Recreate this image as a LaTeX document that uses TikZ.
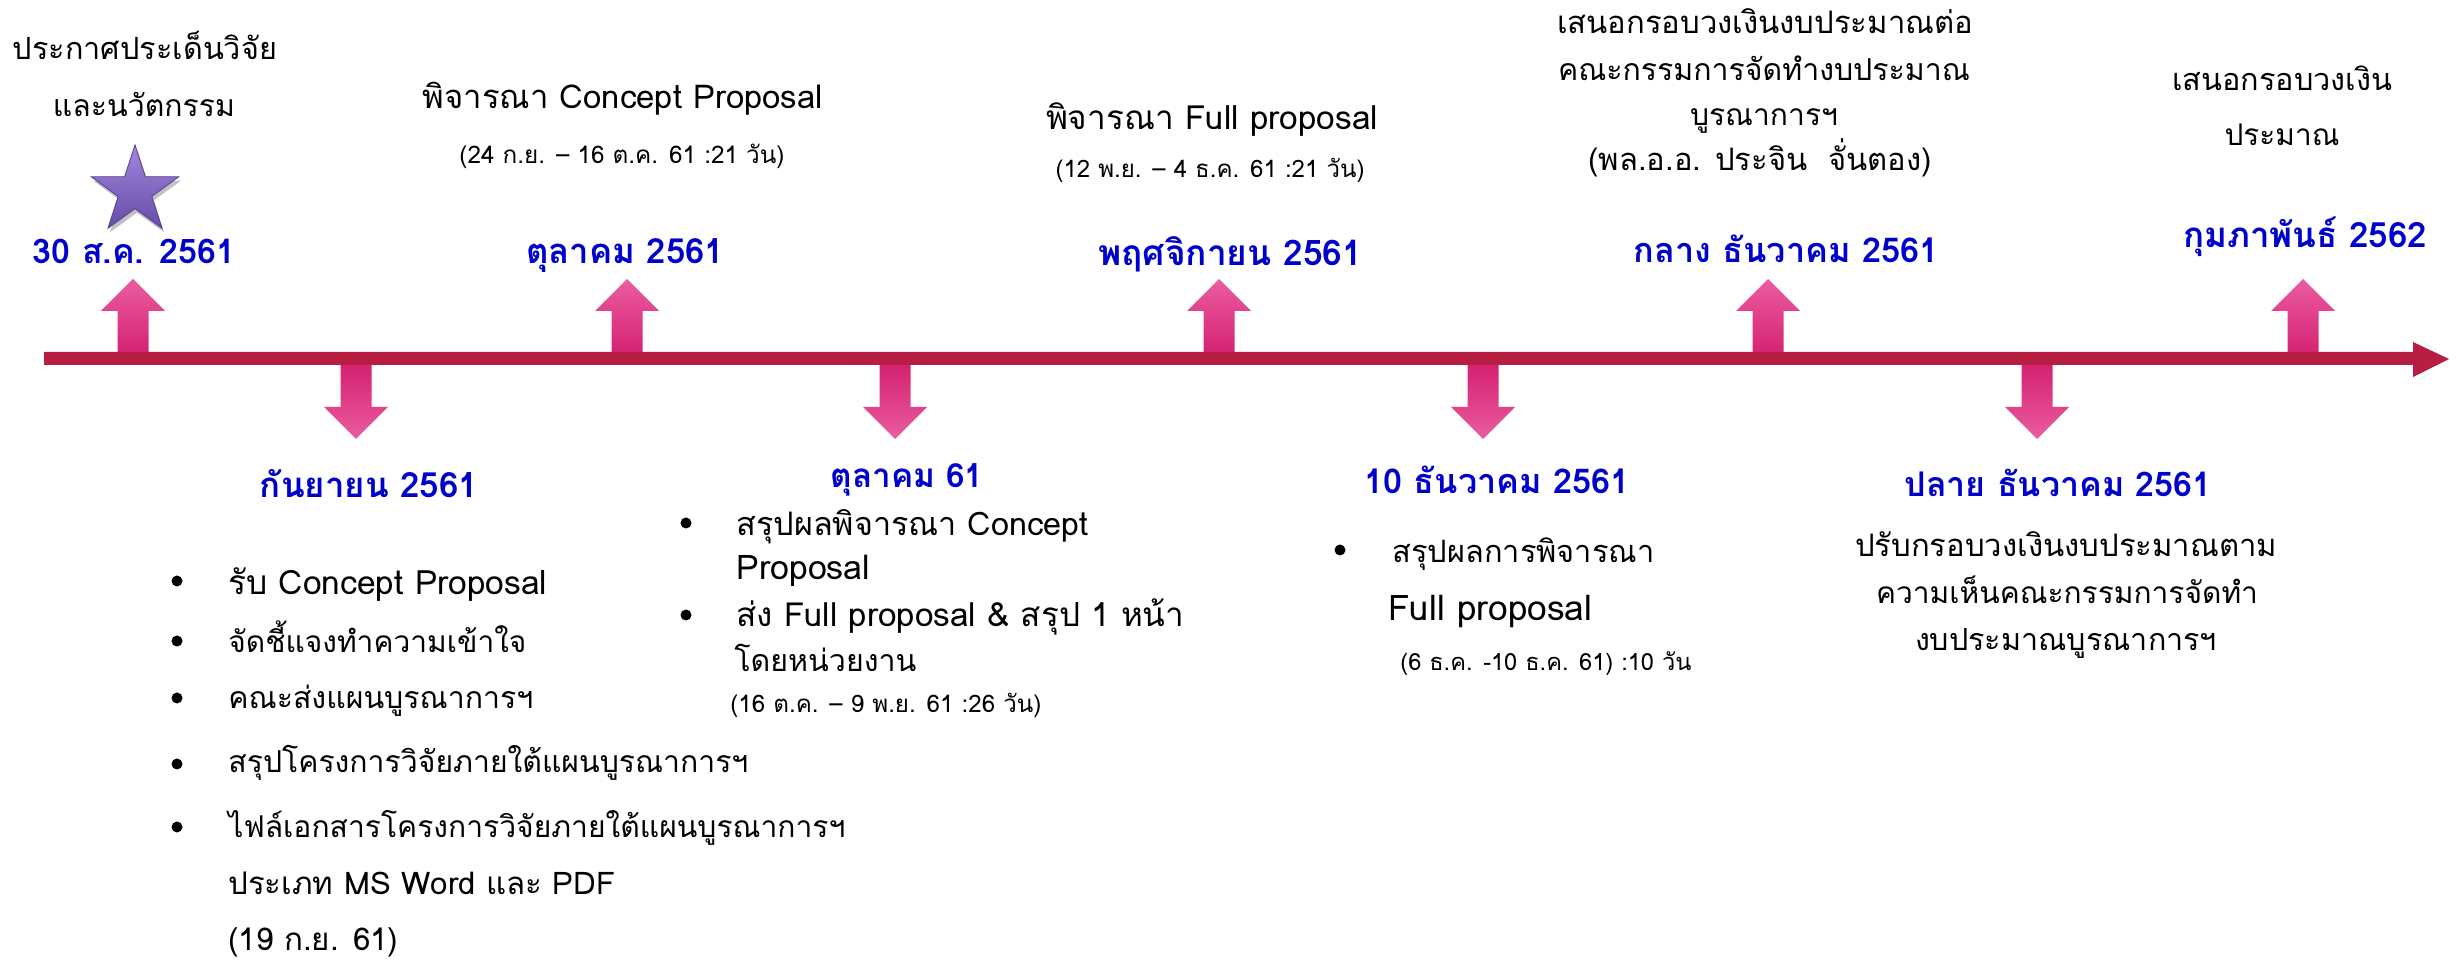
\documentclass[tikz,border=0pt]{standalone}
\usepackage{graphicx}
\usepackage{fontspec}
\setmainfont[Script=Thai]{Loma}
\usetikzlibrary{shapes.geometric,shadows}
\definecolor{datecol}{RGB}{0,0,204}
\definecolor{barcol}{RGB}{183,30,65}
\definecolor{arrtip}{RGB}{234,92,160}
\definecolor{arrmid}{RGB}{226,32,122}
\definecolor{arrbase}{RGB}{212,32,112}
\definecolor{starA}{RGB}{165,135,220}
\definecolor{starB}{RGB}{100,76,168}
\tikzset{
  datelbl/.style={font=\bfseries\fontsize{18}{20}\selectfont, text=datecol, inner sep=0pt, anchor=mid},
  toptxt/.style={font=\fontsize{17}{19}\selectfont, inner sep=0pt, anchor=mid},
  bodytxt/.style={font=\fontsize{16}{18}\selectfont, inner sep=0pt, anchor=mid west},
  bodyc/.style={font=\fontsize{16}{18}\selectfont, inner sep=0pt, anchor=mid},
  smalltxt/.style={font=\fontsize{13}{15}\selectfont, inner sep=0pt, anchor=mid},
  smallw/.style={font=\fontsize{13}{15}\selectfont, inner sep=0pt, anchor=mid west},
  bulletdot/.style={fill=black},
  uparr/.style={top color=arrtip, middle color=arrmid, bottom color=arrbase},
  dnarr/.style={top color=arrbase, middle color=arrmid, bottom color=arrtip},
}
% width given in reference pixels (1px = 0.5pt)
\newcommand\fw[2]{\resizebox{\dimexpr #1pt/2\relax}{!}{#2}}
\newcommand\UpArr[1]{\shade[uparr] (#1-32,311) -- (#1,279) -- (#1+32,311) -- (#1+15.5,311) -- (#1+15.5,357) -- (#1-15.5,357) -- (#1-15.5,311) -- cycle;}
\newcommand\DnArr[1]{\shade[dnarr] (#1-32,407) -- (#1,439) -- (#1+32,407) -- (#1+15.5,407) -- (#1+15.5,363) -- (#1-15.5,363) -- (#1-15.5,407) -- cycle;}
\begin{document}
\begin{tikzpicture}[x=0.5pt,y=-0.5pt]
\useasboundingbox (0,0) rectangle (2458,961);
% arrows
\UpArr{133}\UpArr{627}\UpArr{1219}\UpArr{1768}\UpArr{2303}
\DnArr{356}\DnArr{895}\DnArr{1483}\DnArr{2037}
% timeline bar
\fill[barcol] (44,352) -- (2413,352) -- (2413,342) -- (2449,359) -- (2413,377) -- (2413,365) -- (44,365) -- cycle;
% star
\node[star, star points=5, star point ratio=2.6, minimum size=46pt, inner sep=0pt,
  top color=starA, bottom color=starB, draw=starB!85!black, line width=0.4pt,
  drop shadow={shadow xshift=1pt, shadow yshift=-2pt, opacity=0.35, fill=black!70}] (annstar) at (135,191) {};
% top texts
\node[toptxt] (t1a) at (145,54) {\fw{264}{ประกาศประเด็นวิจัย}};
\node[toptxt] (t1b) at (144,111) {\fw{182}{และนวัตกรรม}};
\node[toptxt] (t2a) at (623,103) {\fw{400}{พิจารณา Concept Proposal}};
\node[smalltxt] (t2b) at (622,158) {\fw{325}{(24 ก.ย. – 16 ต.ค. 61 :21 วัน)}};
\node[toptxt] (t3a) at (1212,124) {\fw{332}{พิจารณา Full proposal}};
\node[smalltxt] (t3b) at (1210,172) {\fw{309}{(12 พ.ย. – 4 ธ.ค. 61 :21 วัน)}};
\node[toptxt] (t4a) at (1765,28) {\fw{416}{เสนอกรอบวงเงินงบประมาณต่อ}};
\node[toptxt] (t4b) at (1764,75) {\fw{412}{คณะกรรมการจัดทำงบประมาณ}};
\node[toptxt] (t4c) at (1764,120) {\fw{148}{บูรณาการฯ}};
\node[toptxt] (t4d) at (1760,165) {\fw{343}{(พล.อ.อ. ประจิน\ \ จั่นตอง)}};
\node[toptxt] (t5a) at (2282,85) {\fw{220}{เสนอกรอบวงเงิน}};
\node[toptxt] (t5b) at (2282,140) {\fw{115}{ประมาณ}};
% date labels
\node[datelbl] (d1) at (134,258) {\fw{202}{30 ส.ค. 2561}};
\node[datelbl] (d2) at (625,258) {\fw{198}{ตุลาคม 2561}};
\node[datelbl] (d3) at (1230,260) {\fw{264}{พฤศจิกายน 2561}};
\node[datelbl] (d4) at (1786,257) {\fw{305}{กลาง ธันวาคม 2561}};
\node[datelbl] (d5) at (2305,242) {\fw{244}{กุมภาพันธ์ 2562}};
\node[datelbl] (d6) at (369,492) {\fw{218}{กันยายน 2561}};
\node[datelbl] (d7) at (907,482) {\fw{153}{ตุลาคม 61}};
\node[datelbl] (d8) at (1497,488) {\fw{265}{10 ธันวาคม 2561}};
\node[datelbl] (d9) at (2058,491) {\fw{307}{ปลาย ธันวาคม 2561}};
% list 1
\foreach \yy in {581,641,698,764,827} \fill[bulletdot] (177,\yy) circle (5.5);
\node[bodytxt] (l1a) at (228,589) {\fw{319}{รับ Concept Proposal}};
\node[bodytxt] (l1b) at (228,647) {\fw{298}{จัดชี้แจงทำความเข้าใจ}};
\node[bodytxt] (l1c) at (228,703) {\fw{305}{คณะส่งแผนบูรณาการฯ}};
\node[bodytxt] (l1d) at (228,767) {\fw{520}{สรุปโครงการวิจัยภายใต้แผนบูรณาการฯ}};
\node[bodytxt] (l1e) at (228,832) {\fw{617}{ไฟล์เอกสารโครงการวิจัยภายใต้แผนบูรณาการฯ}};
\node[bodytxt] (l1f) at (228,889) {\fw{387}{ประเภท MS Word และ PDF}};
\node[bodytxt] (l1g) at (228,945) {\fw{170}{(19 ก.ย. 61)}};
% list 2
\foreach \yy in {523,615} \fill[bulletdot] (686,\yy) circle (5.5);
\node[bodytxt] (l2a) at (736,530) {\fw{352}{สรุปผลพิจารณา Concept}};
\node[bodytxt] (l2b) at (736,574) {\fw{134}{Proposal}};
\node[bodytxt] (l2c) at (736,621) {\fw{448}{ส่ง Full proposal \& สรุป 1 หน้า}};
\node[bodytxt] (l2d) at (734,666) {\fw{182}{โดยหน่วยงาน}};
\node[smallw] (l2e) at (730,707) {\fw{311}{(16 ต.ค. – 9 พ.ย. 61 :26 วัน)}};
% list 3
\fill[bulletdot] (1340,550) circle (5.5);
\node[bodytxt] (l3a) at (1392,557) {\fw{262}{สรุปผลการพิจารณา}};
\node[bodytxt] (l3b) at (1388,615) {\fw{204}{Full proposal}};
\node[smallw] (l3c) at (1400,665) {\fw{291}{(6 ธ.ค. -10 ธ.ค. 61) :10 วัน}};
% paragraph 4
\node[bodyc] (p4a) at (2066,551) {\fw{422}{ปรับกรอบวงเงินงบประมาณตาม}};
\node[bodyc] (p4b) at (2067,598) {\fw{382}{ความเห็นคณะกรรมการจัดทำ}};
\node[bodyc] (p4c) at (2066,645) {\fw{302}{งบประมาณบูรณาการฯ}};
\end{tikzpicture}
\end{document}
